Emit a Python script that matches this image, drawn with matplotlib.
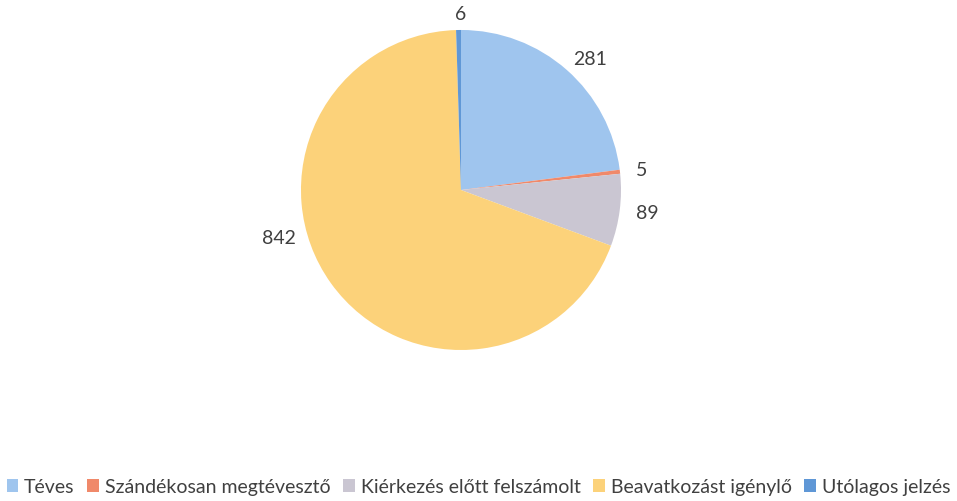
import matplotlib.pyplot as plt

categories = ['Téves', 'Szándékosan megtévesztő', 'Kiérkezés előtt felszámolt',
              'Beavatkozást igénylő', 'Utólagos jelzés']
values = [281, 5, 89, 842, 6]
colors = ['#9fc5ee', '#f0896a', '#cac6d2', '#fcd27a', '#5f97d6']

plt.rcParams['font.family'] = ['Lato', 'DejaVu Sans']

fig = plt.figure(figsize=(9.57, 5.02), dpi=100)
ax = fig.add_axes([0.3145, 0.3008, 0.3344, 0.6375])

wedges, texts = ax.pie(values, colors=colors, startangle=90, counterclock=False,
                       labels=[str(v) for v in values], labeldistance=1.1,
                       textprops={'fontsize': 14, 'color': '#404040'})
ax.set_aspect('equal')
ax.set_xlim(-1, 1)
ax.set_ylim(-1, 1)

# nudge labels like Excel's best-fit placement
texts[0].set_position((0.7, 0.82))
texts[3].set_position((-1.03, -0.3))
texts[3].set_ha('right')
texts[4].set_position((0.0, 1.1))
texts[4].set_ha('center')

fig.legend(wedges, categories, loc='center', bbox_to_anchor=(0.5, 0.028), ncol=5,
           frameon=False, fontsize=14, handlelength=0.6, handleheight=0.6,
           handletextpad=0.3, columnspacing=0.65, labelcolor='#404040')

fig.savefig('out.png', dpi=100)
